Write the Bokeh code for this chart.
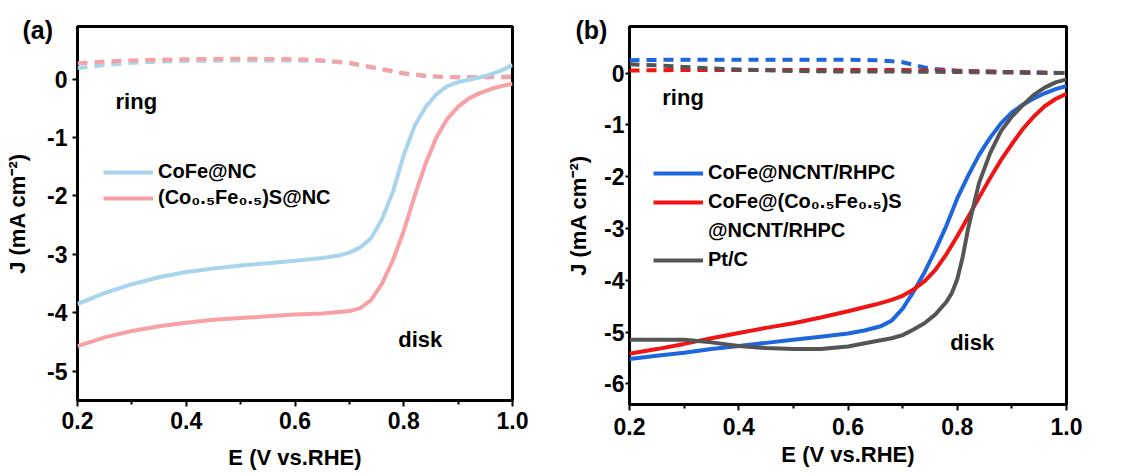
from bokeh.plotting import figure
from bokeh.layouts import row
from bokeh.models import Label, Legend, LegendItem, FixedTicker, Range1d, NumeralTickFormatter
from bokeh.embed import file_html
from bokeh.resources import INLINE

FONT = "Liberation Sans"

# ---------------- panel (a) data ----------------
a_disk_E = [0.20, 0.25, 0.30, 0.35, 0.40, 0.45, 0.50, 0.55, 0.60, 0.65, 0.68, 0.70, 0.72, 0.74,
            0.76, 0.78, 0.80, 0.82, 0.84, 0.86, 0.88, 0.90, 0.92, 0.94, 0.96, 0.98, 1.00]
a_cofe_disk = [-3.85, -3.66, -3.51, -3.39, -3.30, -3.24, -3.19, -3.15, -3.11, -3.06, -3.02, -2.97, -2.88, -2.72,
               -2.40, -1.93, -1.30, -0.80, -0.48, -0.26, -0.12, -0.05, -0.01, 0.03, 0.08, 0.15, 0.24]
a_cofes_disk_E = [0.20, 0.25, 0.30, 0.35, 0.40, 0.45, 0.50, 0.55, 0.60, 0.65, 0.70, 0.72, 0.74,
                  0.76, 0.78, 0.80, 0.82, 0.84, 0.86, 0.88, 0.90, 0.92, 0.94, 0.96, 0.98, 1.00]
a_cofes_disk = [-4.57, -4.42, -4.31, -4.23, -4.17, -4.12, -4.09, -4.06, -4.03, -4.01, -3.97, -3.92, -3.78,
                -3.50, -3.10, -2.60, -2.00, -1.45, -1.00, -0.68, -0.47, -0.33, -0.24, -0.17, -0.12, -0.08]
a_ring_E = [0.20, 0.25, 0.30, 0.35, 0.40, 0.50, 0.60, 0.65, 0.70, 0.75, 0.80, 0.85, 0.90, 0.95, 1.00]
a_cofe_ring = [0.19, 0.24, 0.28, 0.30, 0.31, 0.32, 0.32, 0.31, 0.27, 0.18, 0.09, 0.04, 0.03, 0.04, 0.05]
a_cofes_ring = [0.27, 0.30, 0.32, 0.33, 0.34, 0.35, 0.34, 0.32, 0.28, 0.19, 0.10, 0.05, 0.03, 0.03, 0.03]

# ---------------- panel (b) data ----------------
b_blue_E = [0.20, 0.25, 0.30, 0.35, 0.40, 0.45, 0.50, 0.55, 0.60, 0.63, 0.66, 0.68, 0.70, 0.72, 0.74,
            0.76, 0.78, 0.80, 0.82, 0.84, 0.86, 0.88, 0.90, 0.92, 0.94, 0.96, 0.98, 1.00]
b_blue_disk = [-5.52, -5.46, -5.40, -5.33, -5.27, -5.21, -5.15, -5.09, -5.03, -4.97, -4.89, -4.78, -4.55, -4.22, -3.85,
               -3.42, -2.95, -2.42, -1.98, -1.58, -1.25, -0.97, -0.76, -0.61, -0.49, -0.39, -0.31, -0.25]
b_red_E = [0.20, 0.25, 0.30, 0.35, 0.40, 0.45, 0.50, 0.55, 0.60, 0.65, 0.68, 0.70, 0.72, 0.74,
           0.76, 0.78, 0.80, 0.82, 0.84, 0.86, 0.88, 0.90, 0.92, 0.94, 0.96, 0.98, 1.00]
b_red_disk = [-5.42, -5.33, -5.23, -5.12, -5.02, -4.92, -4.83, -4.72, -4.60, -4.47, -4.38, -4.30, -4.18, -4.02,
              -3.80, -3.50, -3.15, -2.78, -2.40, -2.03, -1.68, -1.37, -1.08, -0.84, -0.64, -0.50, -0.40]
b_pt_E = [0.20, 0.25, 0.30, 0.35, 0.40, 0.45, 0.50, 0.55, 0.60, 0.65, 0.68, 0.70, 0.72, 0.74, 0.76, 0.78,
          0.79, 0.80, 0.81, 0.82, 0.83, 0.84, 0.86, 0.88, 0.90, 0.92, 0.94, 0.96, 0.98, 1.00]
b_pt_disk = [-5.15, -5.15, -5.15, -5.20, -5.27, -5.31, -5.33, -5.33, -5.28, -5.18, -5.12, -5.06, -4.95, -4.83, -4.66, -4.42,
             -4.25, -3.98, -3.55, -3.00, -2.55, -2.12, -1.55, -1.12, -0.84, -0.62, -0.42, -0.28, -0.18, -0.12]
b_blue_ring_E = [0.20, 0.30, 0.40, 0.50, 0.60, 0.65, 0.68, 0.70, 0.72, 0.74, 0.76, 0.78, 0.80, 0.85, 0.90, 1.00]
b_blue_ring = [0.25, 0.26, 0.26, 0.26, 0.26, 0.25, 0.23, 0.21, 0.16, 0.11, 0.08, 0.06, 0.05, 0.03, 0.02, 0.00]
b_red_ring_E = [0.20, 0.30, 0.40, 0.50, 0.60, 0.70, 0.75, 0.80, 0.90, 1.00]
b_red_ring = [0.05, 0.06, 0.06, 0.06, 0.06, 0.06, 0.05, 0.04, 0.02, 0.00]
b_pt_ring_E = [0.20, 0.25, 0.30, 0.35, 0.40, 0.50, 0.60, 0.70, 0.80, 0.90, 1.00]
b_pt_ring = [0.17, 0.15, 0.12, 0.09, 0.07, 0.04, 0.03, 0.03, 0.02, 0.01, 0.00]

x_ticks = [0.2, 0.4, 0.6, 0.8, 1.0]
x_minor = [0.3, 0.5, 0.7, 0.9]
a_yticks = [-5, -4, -3, -2, -1, 0]
b_yticks = [-6, -5, -4, -3, -2, -1, 0]

a_labels = ["CoFe@NC", "(Co\u2080.\u2085Fe\u2080.\u2085)S@NC"]
b_labels = ["CoFe@NCNT/RHPC", "CoFe@(Co\u2080.\u2085Fe\u2080.\u2085)S", "@NCNT/RHPC", "Pt/C"]

A_BLUE, A_RED = "#a8d4ec", "#f7a1a4"
B_BLUE, B_RED, B_GRAY = "#1e66dc", "#f01414", "#555555"


def style(p, yticks, tick_out_y, y_standoff, y_label_standoff, x_standoff, x_label_standoff, panel):
    p.outline_line_color = "black"
    p.outline_line_width = 3
    p.outline_line_alpha = 1.0
    p.xgrid.visible = False
    p.ygrid.visible = False
    p.background_fill_color = "white"
    for ax in (p.xaxis[0], p.yaxis[0]):
        ax.axis_line_color = None
        ax.major_tick_line_color = "black"
        ax.major_tick_line_width = 2
        ax.major_tick_in = 0
        ax.major_label_text_font = FONT
        ax.major_label_text_font_style = "bold"
        ax.major_label_text_font_size = "23px"
        ax.major_label_text_color = "black"
        ax.axis_label_text_font = FONT
        ax.axis_label_text_font_style = "bold"
        ax.axis_label_text_font_size = "22px"
        ax.axis_label_text_color = "black"
    p.xaxis.ticker = FixedTicker(ticks=x_ticks, minor_ticks=x_minor)
    p.xaxis.formatter = NumeralTickFormatter(format="0.0")
    p.xaxis.major_tick_out = 6
    p.xaxis.minor_tick_out = 4
    p.xaxis.minor_tick_in = 0
    p.xaxis.minor_tick_line_color = "black"
    p.xaxis.minor_tick_line_width = 2
    p.xaxis.major_label_standoff = x_standoff
    p.xaxis.axis_label_standoff = x_label_standoff
    p.yaxis.ticker = FixedTicker(ticks=yticks)
    p.yaxis.major_label_overrides = {v: str(v) for v in yticks}
    p.yaxis.minor_tick_line_color = None
    p.yaxis.major_tick_out = tick_out_y
    p.yaxis.major_label_standoff = y_standoff
    p.yaxis.axis_label_standoff = y_label_standoff
    # panel tag "(a)" / "(b)" to the upper left of the frame
    p.title.text = panel
    p.title.text_font = FONT
    p.title.text_font_style = "bold"
    p.title.text_font_size = "25px"
    p.title.text_color = "black"
    p.title.align = "left"
    p.title.standoff = -34


def text_label(p, x, y, text, size="22px"):
    p.add_layout(Label(x=x, y=y, text=text, text_font=FONT, text_font_style="bold",
                       text_font_size=size, text_color="black", text_baseline="alphabetic"))


def make_legend(items, loc, spacing):
    lg = Legend(items=items, location=loc)
    lg.background_fill_alpha = 0
    lg.border_line_alpha = 0
    lg.padding = 0
    lg.margin = 0
    lg.glyph_width = 50
    lg.glyph_height = 22
    lg.label_height = 22
    lg.spacing = spacing
    lg.label_standoff = 5
    lg.label_text_font = FONT
    lg.label_text_font_style = "bold"
    lg.label_text_font_size = "20px"
    lg.label_text_color = "black"
    return lg


# ---------------- panel (a) ----------------
pa = figure(frame_width=435, frame_height=374, min_border_left=77, min_border_right=48,
            min_border_top=26, min_border_bottom=75,
            x_range=Range1d(0.2, 1.0), y_range=Range1d(-5.5, 0.9),
            output_backend="svg", toolbar_location=None,
            x_axis_label="E (V vs.RHE)", y_axis_label="J (mA cm\u207b\u00b2)")
style(pa, a_yticks, 5, 5, 14, 5, 13, "(a)")
pa.title.offset = -55

pa.line(a_ring_E, a_cofe_ring, line_color=A_BLUE, line_width=4, line_dash="10 7")
pa.line(a_ring_E, a_cofes_ring, line_color=A_RED, line_width=4, line_dash="10 7")
ra1 = pa.line(a_disk_E, a_cofe_disk, line_color=A_BLUE, line_width=4)
ra2 = pa.line(a_cofes_disk_E, a_cofes_disk, line_color=A_RED, line_width=4)

pa.add_layout(make_legend([LegendItem(label=a_labels[0], renderers=[ra1]),
                           LegendItem(label=a_labels[1], renderers=[ra2])], (26, 191), 3))
text_label(pa, 0.270, -0.38, "ring")
text_label(pa, 0.790, -4.45, "disk")

# ---------------- panel (b) ----------------
pb = figure(frame_width=437, frame_height=378, min_border_left=69, min_border_right=50,
            min_border_top=26, min_border_bottom=71,
            x_range=Range1d(0.2, 1.0), y_range=Range1d(-6.4, 0.9),
            output_backend="svg", toolbar_location=None,
            x_axis_label="E (V vs.RHE)", y_axis_label="J (mA cm\u207b\u00b2)")
style(pb, b_yticks, 4, 1, 10, 7, 4, "(b)")
pb.title.offset = -54

pb.line(b_blue_ring_E, b_blue_ring, line_color=B_BLUE, line_width=4, line_dash="10 7")
pb.line(b_red_ring_E, b_red_ring, line_color=B_RED, line_width=4, line_dash="10 7")
pb.line(b_pt_ring_E, b_pt_ring, line_color=B_GRAY, line_width=4, line_dash="10 7")
rb1 = pb.line(b_blue_E, b_blue_disk, line_color=B_BLUE, line_width=4)
rb2 = pb.line(b_red_E, b_red_disk, line_color=B_RED, line_width=4)
rb3 = pb.line(b_pt_E, b_pt_disk, line_color=B_GRAY, line_width=4)
rb_blank = pb.line(x=[], y=[], line_alpha=0)

pb.add_layout(make_legend([LegendItem(label=b_labels[0], renderers=[rb1]),
                           LegendItem(label=b_labels[1], renderers=[rb2]),
                           LegendItem(label=b_labels[2], renderers=[rb_blank]),
                           LegendItem(label=b_labels[3], renderers=[rb3])], (24, 133), 6))
text_label(pb, 0.260, -0.48, "ring")
text_label(pb, 0.787, -5.21, "disk")

layout = row(pa, pb)
open("out.html", "w").write(file_html(layout, INLINE))
